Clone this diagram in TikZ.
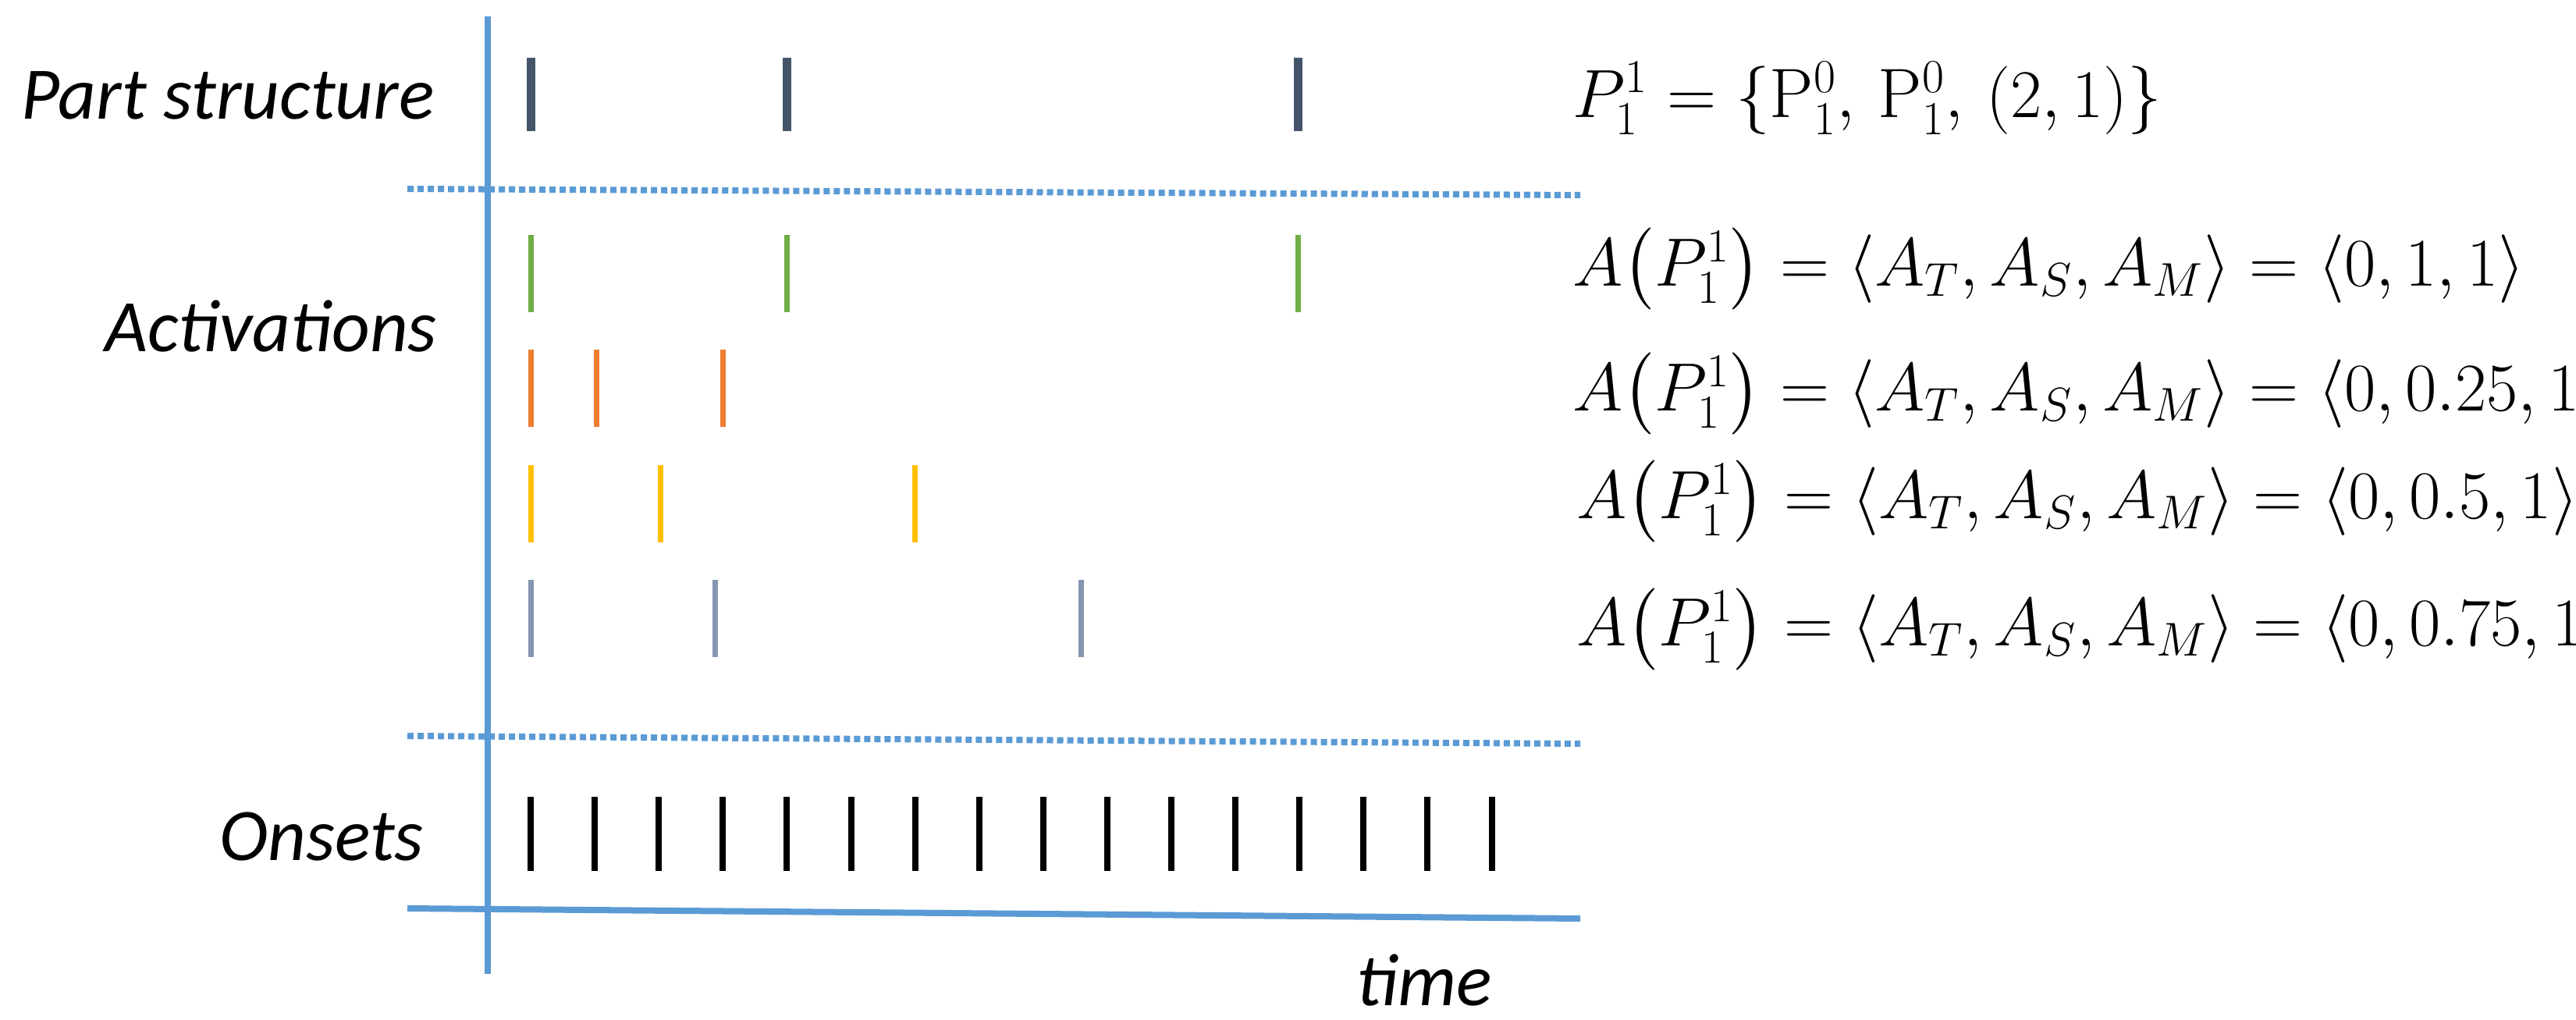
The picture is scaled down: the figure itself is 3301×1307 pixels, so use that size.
\documentclass[tikz,border=0pt]{standalone}
\usepackage{fontspec}
\usepackage{amsmath}
\newfontfamily\calfam{Carlito}
\definecolor{axis}{HTML}{5B9BD5}
\definecolor{dark}{HTML}{44546A}
\definecolor{grn}{HTML}{70AD47}
\definecolor{org}{HTML}{ED7D31}
\definecolor{ylw}{HTML}{FFC000}
\definecolor{gbl}{HTML}{8497B0}
\begin{document}
\begin{tikzpicture}[x=0.01cm,y=-0.01cm,
  lab/.style={font=\calfam\itshape\fontsize{27}{32}\selectfont, inner sep=0},
  eq/.style={font=\fontsize{25.5}{30}\selectfont, anchor=west, inner sep=0},
  ax/.style={draw=axis, line width=0.08cm},
  dot/.style={draw=axis, line width=0.08cm, dash pattern=on 0.08cm off 0.05cm},
  tk/.style={line width=0.07cm}]
\useasboundingbox (0,0) rectangle (3301,1307);
\coordinate (vt) at (625,21); \coordinate (vb) at (625,1248);
\coordinate (hl) at (522,1164); \coordinate (hr) at (2025,1177);
\coordinate (d1l) at (522,242); \coordinate (d1r) at (2025,250);
\coordinate (d2l) at (522,943); \coordinate (d2r) at (2025,953);
\draw[ax] (vt) -- (vb);
\draw[ax] (hl) -- (hr);
\draw[dot] (d1l) -- (d1r);
\draw[dot] (d2l) -- (d2r);
\node[lab] (ps) at (292,122) {Part structure};
\node[lab] (ac) at (347,418) {Activations};
\node[lab] (on) at (412,1072) {Onsets};
\node[lab] (tm) at (1825,1256) {time};
\foreach \x in {680,1008,1663} \draw[tk,draw=dark,line width=0.11cm] (\x,74) -- (\x,168);
\foreach \x in {680,1008,1663} \draw[tk,draw=grn] (\x,301) -- (\x,400);
\foreach \x in {680,764,926} \draw[tk,draw=org] (\x,448) -- (\x,547);
\foreach \x in {680,846,1172} \draw[tk,draw=ylw] (\x,596) -- (\x,695);
\foreach \x in {680,916,1385} \draw[tk,draw=gbl] (\x,743) -- (\x,842);
\foreach \i in {0,...,15} \draw[tk,draw=black,line width=0.08cm] (680+82.1*\i,1021) -- (680+82.1*\i,1116);
\node[eq] (e0) at (2015,126) {$P_1^1=\{\mathrm{P}_1^0,\,\mathrm{P}_1^0,\,(2,1)\}$};
\node[eq] (e1) at (2015,345) {$A\bigl(P_1^1\bigr)=\langle A_T,A_S,A_M\rangle=\langle 0,1,1\rangle$};
\node[eq] (e2) at (2015,505) {$A\bigl(P_1^1\bigr)=\langle A_T,A_S,A_M\rangle=\langle 0,0.25,1\rangle$};
\node[eq] (e3) at (2020,643) {$A\bigl(P_1^1\bigr)=\langle A_T,A_S,A_M\rangle=\langle 0,0.5,1\rangle$};
\node[eq] (e4) at (2020,806) {$A\bigl(P_1^1\bigr)=\langle A_T,A_S,A_M\rangle=\langle 0,0.75,1\rangle$};
\end{tikzpicture}
\end{document}
